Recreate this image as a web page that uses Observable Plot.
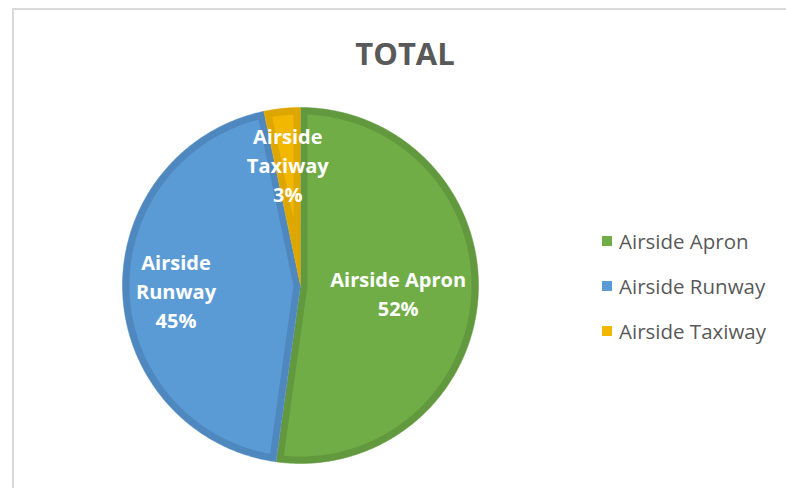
<!DOCTYPE html>
<html>
<head>
<meta charset="utf-8">
<script src="https://cdn.jsdelivr.net/npm/d3@7"></script>
<script src="https://cdn.jsdelivr.net/npm/@observablehq/plot@0.6"></script>
<style>
  html, body { margin: 0; padding: 0; background: #fff; }
  #wrap { position: relative; width: 786px; height: 488px; overflow: hidden; font-family: "Open Sans", sans-serif; }
  #frame { position: absolute; left: 12px; top: 8px; right: -10px; bottom: -10px; border-left: 2px solid #d9d9d9; border-top: 2px solid #d9d9d9; }
  #title { position: absolute; left: 0; width: 810px; top: 32px; text-align: center; font-weight: 700; font-size: 31px; color: #595959; }
  #legend { position: absolute; left: 602px; top: 218px; color: #595959; font-size: 20.5px; }
  .li { display: flex; align-items: center; height: 45px; }
  .sw { width: 10px; height: 10px; margin-right: 7px; }
  #chart { position: absolute; left: 0; top: 0; }
</style>
</head>
<body>
<div id="wrap">
  <div id="frame"></div>
  <div id="chart"></div>
  <div id="title"></div>
  <div id="legend"></div>
</div>
<script>
// ---- data ----
const title = "TOTAL";
const categories = ["Airside Apron", "Airside Runway", "Airside Taxiway"];
const values = [52.2, 44.5, 3.3];
const labelLines = [["Airside Apron"], ["Airside", "Runway"], ["Airside", "Taxiway"]];

// ---- styles / layout ----
const fills = ["#70AD47", "#5B9BD5", "#F2B700"];
const borders = ["#63993E", "#4F88BE", "#DEA700"];
const cx = 300, cy = 285, Rpx = 178;
const borderPx = 7;
const labelRadius = [0.55, 0.70, 0.69];

const total = d3.sum(values);
const w = borderPx / Rpx;
let acc = 0;
const slices = categories.map((c, i) => {
  const a0 = acc / total * 2 * Math.PI;
  acc += values[i];
  const a1 = acc / total * 2 * Math.PI;
  return {c, i, a0, a1, pct: Math.round(values[i] / total * 100)};
});
const pt = (r, t) => ({x: r * Math.sin(t), y: r * Math.cos(t)});

function outerPoly(s) {
  const pts = [pt(0, 0)];
  const n = Math.max(4, Math.ceil((s.a1 - s.a0) * 60));
  for (let k = 0; k <= n; k++) pts.push(pt(1, s.a0 + (s.a1 - s.a0) * k / n));
  return pts.map(p => ({...p, c: s.c}));
}
function innerPoly(s) {
  const R = 1 - w;
  const half = (s.a1 - s.a0) / 2;
  const pts = [];
  const b0 = s.a0 + Math.asin(w / R), b1 = s.a1 - Math.asin(w / R);
  const n = Math.max(4, Math.ceil((b1 - b0) * 60));
  for (let k = 0; k <= n; k++) pts.push(pt(R, b0 + (b1 - b0) * k / n));
  const reflex = half > Math.PI / 2;
  const rmin = reflex ? w : w / Math.sin(half);
  const m = 40;
  for (let k = 0; k <= m; k++) {
    const r = R - (R - rmin) * k / m;
    pts.push(pt(r, s.a1 - Math.asin(Math.min(1, w / r))));
  }
  if (reflex) {
    const c0 = s.a1 - Math.PI / 2, c1 = s.a0 + Math.PI / 2;
    for (let k = 0; k <= 20; k++) pts.push(pt(w, c0 + (c1 - c0) * k / 20));
  }
  for (let k = 0; k <= m; k++) {
    const r = rmin + (R - rmin) * k / m;
    pts.push(pt(r, s.a0 + Math.asin(Math.min(1, w / r))));
  }
  return pts.map(p => ({...p, c: s.c}));
}

const labels = slices.map(s => {
  const mid = (s.a0 + s.a1) / 2;
  const p = pt(labelRadius[s.i], mid);
  return {...p, text: [...labelLines[s.i], s.pct + "%"].join("\n")};
});

const marks = [];
slices.forEach(s => {
  marks.push(Plot.line(outerPoly(s), {x: "x", y: "y", fill: borders[s.i], stroke: borders[s.i], strokeWidth: 0.5}));
});
slices.forEach(s => {
  marks.push(Plot.line(innerPoly(s), {x: "x", y: "y", fill: fills[s.i], stroke: "none"}));
});
marks.push(Plot.text(labels, {x: "x", y: "y", text: "text", fill: "white", fontWeight: 700, fontSize: 20, lineHeight: 1.45, fontFamily: "Open Sans", textAnchor: "middle"}));

const chart = Plot.plot({
  width: 786, height: 488,
  margin: 0,
  x: {domain: [-1, 1], range: [cx - Rpx, cx + Rpx], axis: null},
  y: {domain: [-1, 1], range: [cy + Rpx, cy - Rpx], axis: null},
  style: {background: "transparent", overflow: "visible"},
  marks
});
document.getElementById("chart").appendChild(chart);

document.getElementById("title").textContent = title;
const lg = document.getElementById("legend");
categories.forEach((c, i) => {
  const d = document.createElement("div");
  d.className = "li";
  d.innerHTML = `<span class="sw" style="background:${fills[i]}"></span><span>${c}</span>`;
  lg.appendChild(d);
});
</script>
</body>
</html>
